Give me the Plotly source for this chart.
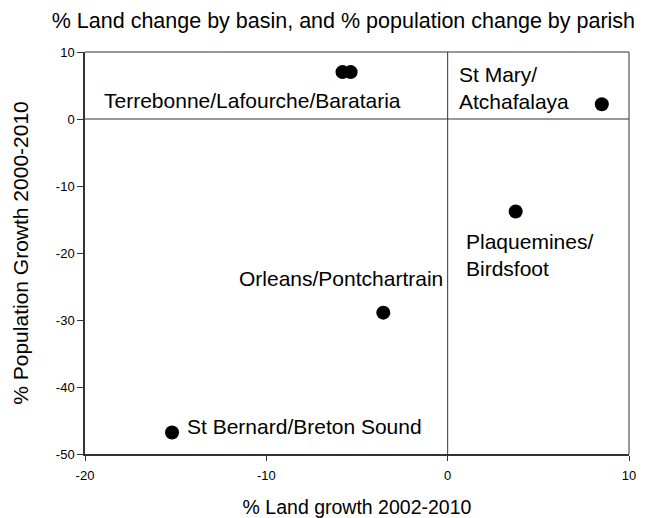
import plotly.graph_objects as go

regions = ["Terrebonne/Lafourche/Barataria", "Terrebonne/Lafourche/Barataria",
           "St Mary/Atchafalaya", "Plaquemines/Birdsfoot",
           "Orleans/Pontchartrain", "St Bernard/Breton Sound"]
land_growth = [-5.8, -5.35, 8.5, 3.75, -3.55, -15.2]
pop_growth = [7.0, 7.0, 2.2, -13.8, -28.9, -46.8]

labels = ["Terrebonne/Lafourche/Barataria", "St Mary/<br>Atchafalaya",
          "Plaquemines/<br>Birdsfoot", "Orleans/Pontchartrain",
          "St Bernard/Breton Sound"]
label_idx = [0, 2, 3, 4, 5]
label_style = [
    dict(xshift=-90, yshift=-28, xanchor="center", yanchor="middle", align="center"),
    dict(xshift=-145, yshift=16, xanchor="left", yanchor="middle", align="left"),
    dict(xshift=-52, yshift=-44, xanchor="left", yanchor="middle", align="left"),
    dict(xshift=-42, yshift=34, xanchor="center", yanchor="middle", align="center"),
    dict(xshift=13, yshift=6, xanchor="left", yanchor="middle", align="left"),
]

x_ticks = [-20, -10, 0, 10]
y_ticks = [10, 0, -10, -20, -30, -40, -50]

FONT = "Liberation Sans, Arial, sans-serif"
W, H = 639, 510

fig = go.Figure()
fig.add_trace(go.Scatter(
    x=land_growth, y=pop_growth, mode="markers",
    marker=dict(color="black", size=14, line=dict(width=0)),
    hoverinfo="skip", showlegend=False,
))

for lab, i, st in zip(labels, label_idx, label_style):
    fig.add_annotation(x=land_growth[i], y=pop_growth[i], text=lab, showarrow=False,
                       font=dict(family=FONT, size=21, color="black"), **st)

# reference lines at zero
fig.add_shape(type="line", xref="x", yref="paper", x0=0, x1=0, y0=0, y1=1,
              line=dict(color="#333333", width=1))
fig.add_shape(type="line", xref="paper", yref="y", x0=0, x1=1, y0=0, y1=0,
              line=dict(color="#333333", width=1))
# frame top and right
fig.add_shape(type="line", xref="paper", yref="paper", x0=0, x1=1, y0=1, y1=1,
              line=dict(color="#333333", width=1))
fig.add_shape(type="line", xref="paper", yref="paper", x0=1, x1=1, y0=0, y1=1,
              line=dict(color="#333333", width=1))

fig.update_layout(
    width=W, height=H,
    margin=dict(l=77, r=18, t=44, b=64),
    paper_bgcolor="white", plot_bgcolor="white",
    font=dict(family=FONT, color="black"),
    title=dict(text="% Land change by basin, and % population change by parish",
               x=0.475, xref="paper", xanchor="center", y=1 - 12 / H, yanchor="middle",
               font=dict(family=FONT, size=21.5, color="black")),
    xaxis=dict(range=[-20, 10], tickvals=x_ticks, ticktext=[str(v) for v in x_ticks],
               showgrid=False, zeroline=False, automargin=False,
               showline=True, linecolor="#333333", linewidth=1.5,
               ticks="outside", ticklen=5, tickcolor="#333333", ticklabelstandoff=4,
               tickfont=dict(size=13), title=dict(text="% Land growth 2002-2010",
               font=dict(size=19.5), standoff=21)),
    yaxis=dict(range=[-50, 10], tickvals=y_ticks, ticktext=[str(v) for v in y_ticks],
               showgrid=False, zeroline=False, automargin=False,
               showline=True, linecolor="#333333", linewidth=1.5,
               ticks="outside", ticklen=6, tickcolor="#333333",
               tickfont=dict(size=13), title=dict(text="% Population Growth 2000-2010",
               font=dict(size=21), standoff=22)),
)

fig.write_html("out.html")
